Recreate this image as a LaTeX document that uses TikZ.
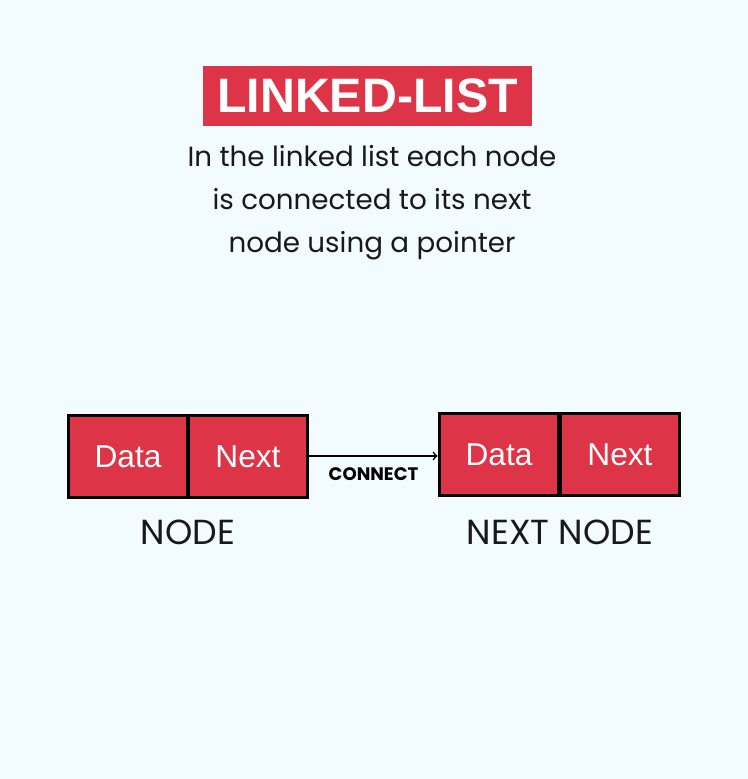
\documentclass[tikz,border=0pt]{standalone}
\usepackage{fontspec}
\setmainfont{Poppins}
\newfontfamily\headfont{Liberation Sans}
\definecolor{listred}{HTML}{DD3547}
\definecolor{paper}{HTML}{F2FBFD}

\begin{document}
\begin{tikzpicture}[x=0.02cm, y=-0.02cm,
cellnode/.style={rectangle, draw=black, fill=listred, line width=1.7pt, minimum width=2.4cm, minimum height=1.64cm, inner sep=0pt, text=white, font=\headfont\fontsize{18}{20}\selectfont},
captionnode/.style={font=\fontsize{19.8}{22}\selectfont, text=black!90}
]
\fill[paper] (0,0) rectangle (748,779);
\useasboundingbox (0,0) rectangle (748,779);

\node [fill=listred, minimum width=6.58cm, minimum height=1.2cm, text=white, font=\headfont\bfseries\fontsize{27.5}{32}\selectfont] (title) at (367.5,96) {LINKED-LIST};

\node [align=center, font=\fontsize{15.8}{24.4}\selectfont, text=black!90] (text) at (372,203) {In the linked list each node\\is connected to its next\\node using a pointer};

    \node [cellnode] (d1) at (128,456.5) {Data};
    \node [cellnode] (n1) at (248,456.5) {Next};
    
    \node [cellnode] (d2) at (499,454.5) {Data};
    \node [cellnode] (n2) at (620,454.5) {Next};
    
    \node [captionnode] (c1) at (188,532) {NODE};
    \node [captionnode] (c2) at (560,532) {NEXT NODE};
    
    \draw [->, line width=0.9pt] (n1.east |- 0,456) -- (d2.west |- 0,456) node [midway, below=3pt, font=\bfseries\fontsize{10.3}{12}\selectfont] (lbl) {CONNECT};
    \end{tikzpicture}
\end{document}
